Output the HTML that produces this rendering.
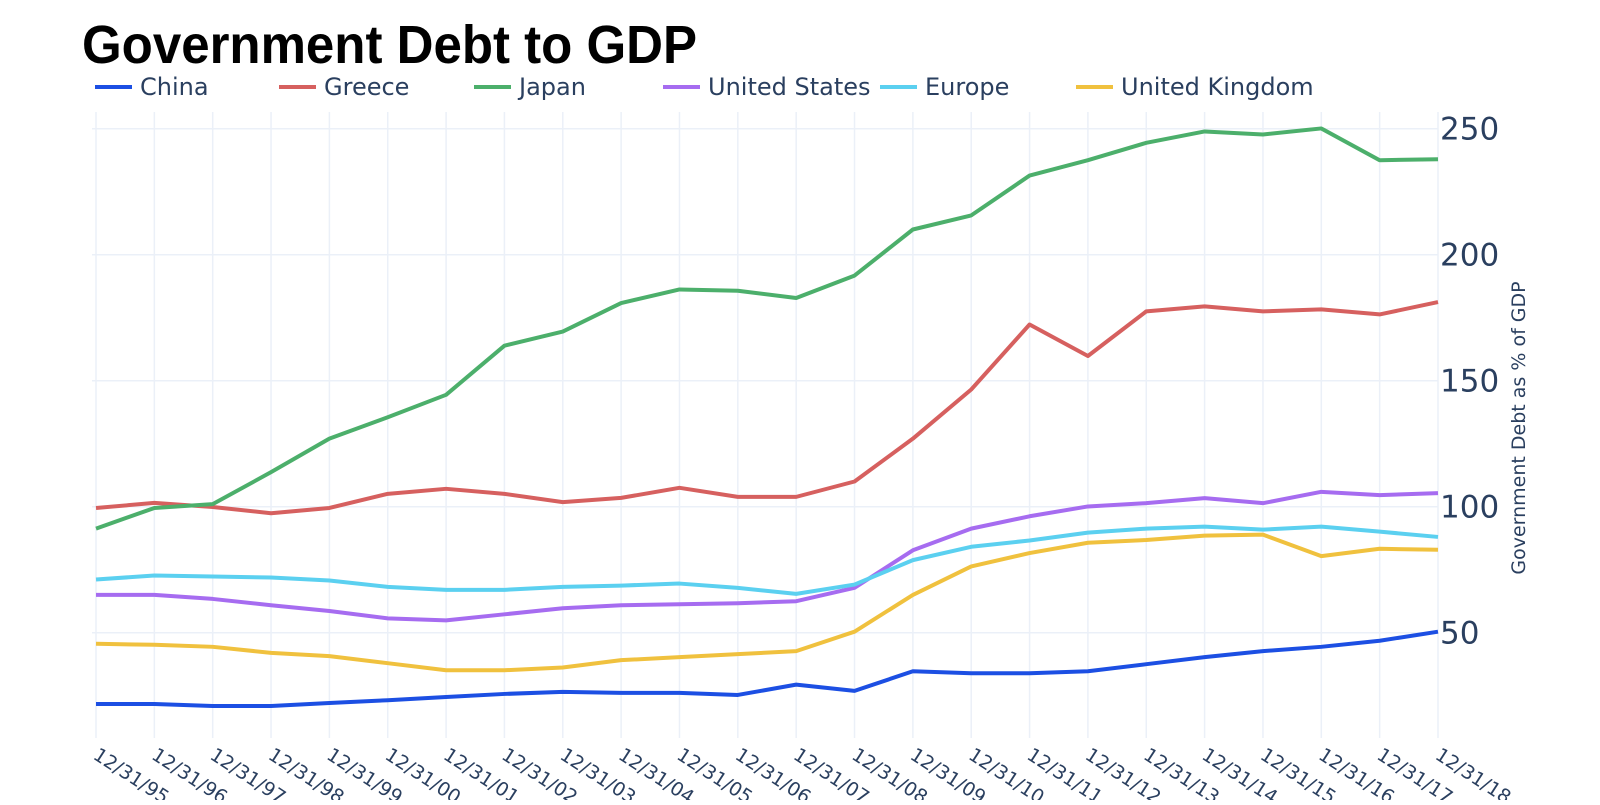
<!DOCTYPE html>
<html><head><meta charset="utf-8"><style>
body{margin:0;background:#fff;width:1600px;height:800px;overflow:hidden;font-family:"Liberation Sans",sans-serif}
</style></head><body>
<svg id="chart" width="1600" height="800" xmlns="http://www.w3.org/2000/svg">
<text x="82" y="63" font-family="Liberation Sans, sans-serif" font-weight="bold" font-size="54" fill="#000" textLength="615" lengthAdjust="spacingAndGlyphs">Government Debt to GDP</text>
<g id="grid"></g>
<g id="legend"></g>
<g id="series"></g>
<g id="axes"></g>
<text transform="translate(1525,428) rotate(-90)" text-anchor="middle" font-family="DejaVu Sans, sans-serif" font-size="19" fill="#2a3f5f">Government Debt as % of GDP</text>
</svg>
<script>
const categories=["12/31/95","12/31/96","12/31/97","12/31/98","12/31/99","12/31/00","12/31/01","12/31/02","12/31/03","12/31/04","12/31/05","12/31/06","12/31/07","12/31/08","12/31/09","12/31/10","12/31/11","12/31/12","12/31/13","12/31/14","12/31/15","12/31/16","12/31/17","12/31/18"];
const china=[21.7,21.7,20.9,20.9,22.1,23.2,24.5,25.7,26.5,26.1,26.1,25.3,29.4,26.9,34.7,33.9,33.9,34.7,37.5,40.3,42.7,44.4,46.8,50.4];
const greece=[99.5,101.5,99.9,97.4,99.5,105.1,107.1,105.1,101.8,103.5,107.5,103.9,103.9,110.0,127.0,146.5,172.3,159.8,177.5,179.5,177.5,178.3,176.3,181.2];
const japan=[91.3,99.5,101.0,113.7,127.0,135.5,144.4,163.9,169.5,180.8,186.2,185.7,182.8,191.7,210.0,215.6,231.4,237.5,244.4,248.9,247.7,250.1,237.5,237.9];
const us=[65.0,65.0,63.4,60.9,58.6,55.7,54.9,57.3,59.7,60.9,61.3,61.7,62.5,67.8,82.7,91.3,96.2,100.1,101.4,103.4,101.4,105.9,104.6,105.4];
const europe=[71.1,72.7,72.3,71.9,70.7,68.2,67.0,67.0,68.2,68.7,69.5,67.8,65.4,69.1,78.8,84.1,86.6,89.7,91.3,92.1,90.9,92.1,90.1,88.0];
const uk=[45.6,45.2,44.4,42.0,40.7,37.9,35.1,35.1,36.2,39.1,40.3,41.5,42.7,50.4,65.0,76.3,81.6,85.7,86.8,88.5,88.9,80.4,83.3,82.9];
const yTicks=[50,100,150,200,250];
const seriesNames=["China","Greece","Japan","United States","Europe","United Kingdom"];
const seriesData=[china,greece,japan,us,europe,uk];
const colors=["#1c4fe3","#d6605f","#4caf6b","#a66cf0","#5bd0f0","#f0c13e"];
const legendX=[95,279,474,663,880,1076];
const NS="http://www.w3.org/2000/svg";
const x0=96,x1=1438,plotTop=112,plotBottom=738;
function xs(i){return x0+(x1-x0)*i/(categories.length-1);}
function ys(v){return 632.7-(v-50)*2.52;}
function mk(t,a){const e=document.createElementNS(NS,t);for(const k in a)e.setAttribute(k,a[k]);return e;}
const grid=document.getElementById('grid'),axes=document.getElementById('axes'),ser=document.getElementById('series'),leg=document.getElementById('legend');
categories.forEach((c,i)=>{
 const l=mk('line',{x1:xs(i),x2:xs(i),y1:plotTop,y2:plotBottom,stroke:'#ebf0f8','stroke-width':1.5});
 
 
 grid.appendChild(l);
 const t=mk('text',{transform:`translate(${xs(i)-4},${758}) rotate(33)`,'font-family':'DejaVu Sans, sans-serif','font-size':19,fill:'#2a3f5f'});
 t.textContent=c;
 
 
 axes.appendChild(t);
});
yTicks.forEach(v=>{
 const l=mk('line',{x1:x0-4,x2:x1,y1:ys(v),y2:ys(v),stroke:'#ebf0f8','stroke-width':1.5});
 
 
 grid.appendChild(l);
 const t=mk('text',{x:1440,y:ys(v)+11,'font-family':'DejaVu Sans, sans-serif','font-size':31,fill:'#2a3f5f'});
 t.textContent=v;
 
 
 axes.appendChild(t);
});
seriesData.forEach((d,s)=>{
 const p=mk('polyline',{points:d.map((v,i)=>xs(i)+','+ys(v)).join(' '),fill:'none',stroke:colors[s],'stroke-width':4,'stroke-linejoin':'round'});
 
 
 ser.appendChild(p);
 const g=mk('g',{});
 
 
 g.appendChild(mk('line',{x1:legendX[s],x2:legendX[s]+37,y1:87,y2:87,stroke:colors[s],'stroke-width':4}));
 const t=mk('text',{x:legendX[s]+45,y:95,'font-family':'DejaVu Sans, sans-serif','font-size':24,fill:'#2a3f5f'});
 t.textContent=seriesNames[s];
 g.appendChild(t);
 leg.appendChild(g);
});
</script>
</body></html>
